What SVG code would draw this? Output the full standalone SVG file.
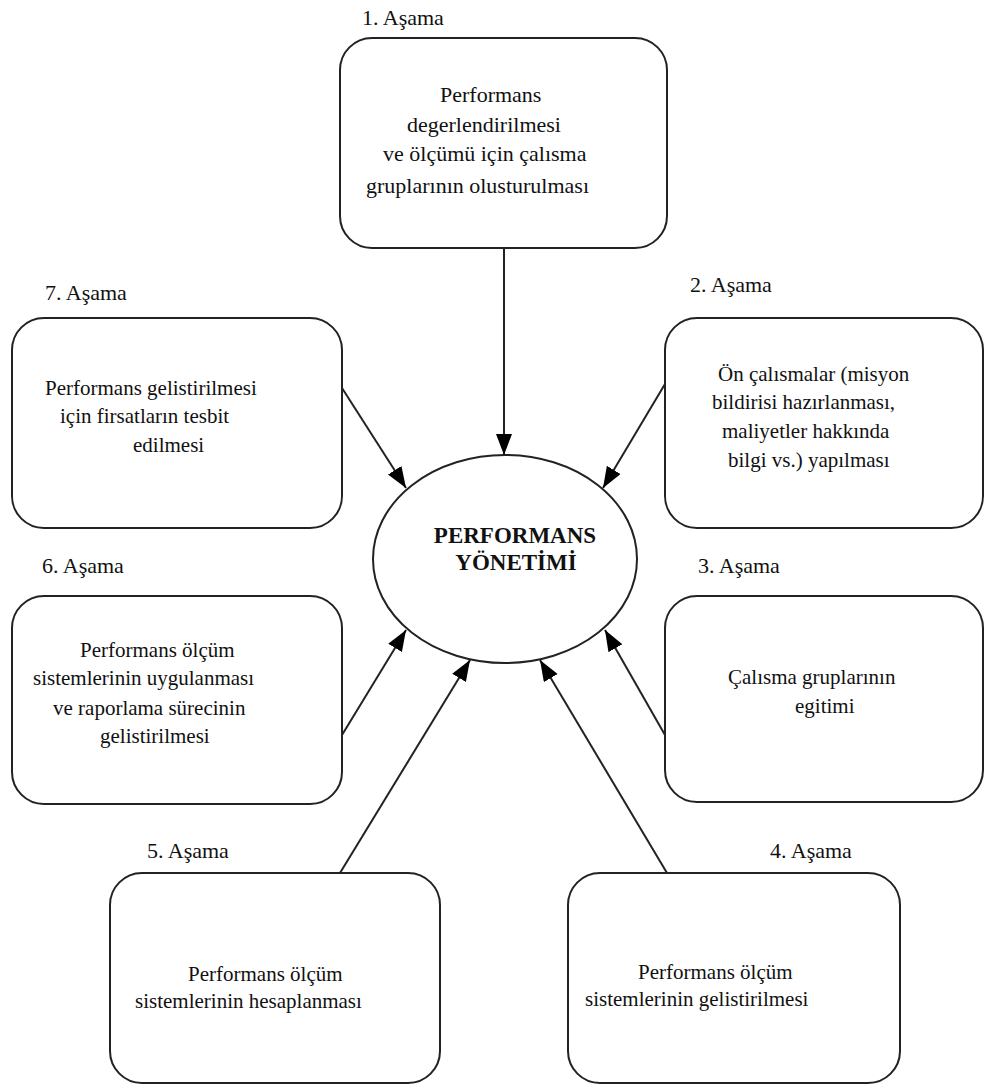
<svg xmlns="http://www.w3.org/2000/svg" width="984" height="1085" viewBox="0 0 984 1085">
<style>
.box{fill:#fff;stroke:#222;stroke-width:2}
.t{font-family:"Liberation Serif","Times New Roman",serif;font-size:21px;fill:#111}
.t1{font-size:22px}
.lbl{font-family:"Liberation Serif","Times New Roman",serif;font-size:22px;fill:#111}
.b{font-weight:bold;font-size:23px}
.con{stroke:#222;stroke-width:2;fill:none}
</style>
<defs>
<marker id="ah" markerUnits="userSpaceOnUse" markerWidth="22" markerHeight="18" refX="21" refY="8" orient="auto">
<path d="M0,0 L21,8 L0,16 z" fill="#000"/>
</marker>
</defs>
<rect width="984" height="1085" fill="#fff"/>
<g id="connectors">
<line class="con" x1="504" y1="248" x2="504" y2="455" marker-end="url(#ah)"/>
<line class="con" x1="342" y1="388" x2="406" y2="488" marker-end="url(#ah)"/>
<line class="con" x1="665" y1="384" x2="603" y2="488" marker-end="url(#ah)"/>
<line class="con" x1="342" y1="735" x2="406" y2="630" marker-end="url(#ah)"/>
<line class="con" x1="665" y1="735" x2="605" y2="630" marker-end="url(#ah)"/>
<line class="con" x1="340" y1="873" x2="470" y2="660" marker-end="url(#ah)"/>
<line class="con" x1="667" y1="873" x2="540" y2="660" marker-end="url(#ah)"/>
</g>
<g id="center">
<ellipse class="box" cx="505" cy="559" rx="132" ry="104"/>
<text class="t b" x="515" y="543" text-anchor="middle">PERFORMANS</text>
<text class="t b" x="516" y="570" text-anchor="middle">YÖNETİMİ</text>
</g>
<g id="stage1">
<text class="lbl" x="362" y="25">1. Aşama</text>
<rect class="box" x="340" y="38" width="327" height="210" rx="32"/>
<text class="t t1" x="440" y="102">Performans</text>
<text class="t t1" x="407" y="132">degerlendirilmesi</text>
<text class="t t1" x="383" y="161">ve ölçümü için çalısma</text>
<text class="t t1" x="366" y="193">gruplarının olusturulması</text>
</g>
<g id="stage2">
<text class="lbl" x="690" y="292">2. Aşama</text>
<rect class="box" x="665" y="318" width="318" height="210" rx="32"/>
<text class="t" x="718" y="381">Ön çalısmalar (misyon</text>
<text class="t" x="712" y="409">bildirisi hazırlanması,</text>
<text class="t" x="722" y="438">maliyetler hakkında</text>
<text class="t" x="728" y="467">bilgi vs.) yapılması</text>
</g>
<g id="stage3">
<text class="lbl" x="698" y="573">3. Aşama</text>
<rect class="box" x="665" y="596" width="318" height="206" rx="32"/>
<text class="t" x="728" y="684">Çalısma gruplarının</text>
<text class="t" x="795" y="713">egitimi</text>
</g>
<g id="stage4">
<text class="lbl" x="770" y="858">4. Aşama</text>
<rect class="box" x="568" y="873" width="332" height="210" rx="32"/>
<text class="t" x="638" y="979">Performans ölçüm</text>
<text class="t" x="585" y="1006">sistemlerinin gelistirilmesi</text>
</g>
<g id="stage5">
<text class="lbl" x="147" y="858">5. Aşama</text>
<rect class="box" x="110" y="873" width="330" height="210" rx="32"/>
<text class="t" x="188" y="981">Performans ölçüm</text>
<text class="t" x="135" y="1008">sistemlerinin hesaplanması</text>
</g>
<g id="stage6">
<text class="lbl" x="42" y="573">6. Aşama</text>
<rect class="box" x="12" y="596" width="330" height="208" rx="32"/>
<text class="t" x="80" y="657">Performans ölçüm</text>
<text class="t" x="33" y="685">sistemlerinin uygulanması</text>
<text class="t" x="53" y="715">ve raporlama sürecinin</text>
<text class="t" x="100" y="743">gelistirilmesi</text>
</g>
<g id="stage7">
<text class="lbl" x="45" y="300">7. Aşama</text>
<rect class="box" x="12" y="318" width="330" height="210" rx="32"/>
<text class="t" x="45" y="395">Performans gelistirilmesi</text>
<text class="t" x="60" y="423">için firsatların tesbit</text>
<text class="t" x="133" y="452">edilmesi</text>
</g>
</svg>
